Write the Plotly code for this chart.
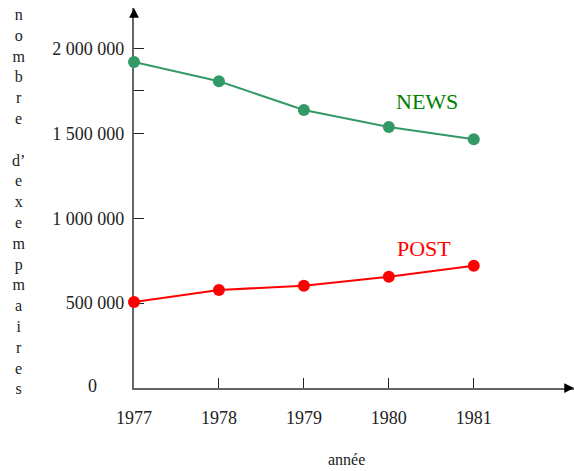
import plotly.graph_objects as go

# Data
years = [1977, 1978, 1979, 1980, 1981]
news = [1920000, 1807000, 1638000, 1538000, 1465000]
post = [507000, 577000, 603000, 656000, 720000]

y_tickvals = [500000, 1000000, 1500000, 1750000, 2000000]
y_ticktext = ["500 000", "1 000 000", "1 500 000", "", "2 000 000"]
y_title_letters = ["n", "o", "m", "b", "r", "e", "", "d’", "e", "x", "e",
                   "m", "p", "m", "a", "i", "r", "e", "s"]

FONT = "Liberation Serif, Times New Roman, serif"
NEWS_LINE = "#339966"
NEWS_TEXT = "#008000"
POST_COLOR = "#ff0000"

fig = go.Figure()

fig.add_trace(go.Scatter(
    x=years, y=news, mode="lines+markers", name="NEWS",
    line=dict(color=NEWS_LINE, width=2),
    marker=dict(color=NEWS_LINE, size=12),
    cliponaxis=False, showlegend=False
))

fig.add_trace(go.Scatter(
    x=years, y=post, mode="lines+markers", name="POST",
    line=dict(color=POST_COLOR, width=2),
    marker=dict(color=POST_COLOR, size=12),
    cliponaxis=False, showlegend=False
))

x_end = 1982.18
y_top = 2238600

fig.update_layout(
    width=574, height=471,
    margin=dict(l=134, r=0, t=8, b=83),
    plot_bgcolor="white", paper_bgcolor="white",
    font=dict(family=FONT, size=18, color="#222222"),
    showlegend=False,
)

fig.update_xaxes(
    range=[1977, x_end], showgrid=False, zeroline=False,
    showline=True, linecolor="#666666", linewidth=1.5,
    tickvals=years, ticktext=[str(y) for y in years],
    ticks="inside", ticklen=10, tickwidth=1, tickcolor="#222222",
    ticklabelstandoff=13, layer="below traces",
)

# a trailing no-break space keeps the labels off the axis line
fig.update_yaxes(
    range=[0, y_top], showgrid=False, zeroline=False,
    showline=True, linecolor="#666666", linewidth=1.5,
    tickvals=y_tickvals, ticktext=[t + "\u00a0" for t in y_ticktext],
    ticks="inside", ticklen=10, tickwidth=1, tickcolor="#222222",
    layer="below traces",
)

# arrow heads at the end of the axes
fig.add_annotation(x=x_end, y=0, xref="x", yref="y", ax=-10, ay=0,
                   text="", showarrow=True, arrowhead=2, arrowsize=1.3,
                   arrowwidth=1.5, arrowcolor="black")
fig.add_annotation(x=1977, y=y_top, xref="x", yref="y", ax=0, ay=10,
                   text="", showarrow=True, arrowhead=2, arrowsize=1.3,
                   arrowwidth=1.5, arrowcolor="black")

# "0" label, placed left of the other tick labels
fig.add_annotation(x=1977, y=0, xref="x", yref="y", xshift=-42, yshift=2,
                   text="0", showarrow=False, xanchor="center",
                   font=dict(size=18, family=FONT, color="#222222"))

# series labels
fig.add_annotation(x=1980.45, y=1687000, text="NEWS", showarrow=False,
                   font=dict(size=22, family=FONT, color=NEWS_TEXT))
fig.add_annotation(x=1980.41, y=819000, text="POST", showarrow=False,
                   font=dict(size=22, family=FONT, color=POST_COLOR))

# axis titles
fig.add_annotation(x=1979.5, y=-72 / 380, xref="x", yref="paper",
                   text="année", showarrow=False, yanchor="middle",
                   font=dict(size=16, family=FONT, color="#222222"))
fig.add_annotation(x=(18 - 134) / 440, y=(388 - 201) / 380,
                   xref="paper", yref="paper",
                   text="<br>".join(y_title_letters), showarrow=False,
                   yanchor="middle", xanchor="center",
                   font=dict(size=16, family=FONT, color="#222222"))

# drop the default page margin so the figure sits at the window corner
fig.write_html("out.html", config={"displayModeBar": False},
               post_script="document.body.style.margin='0';")
